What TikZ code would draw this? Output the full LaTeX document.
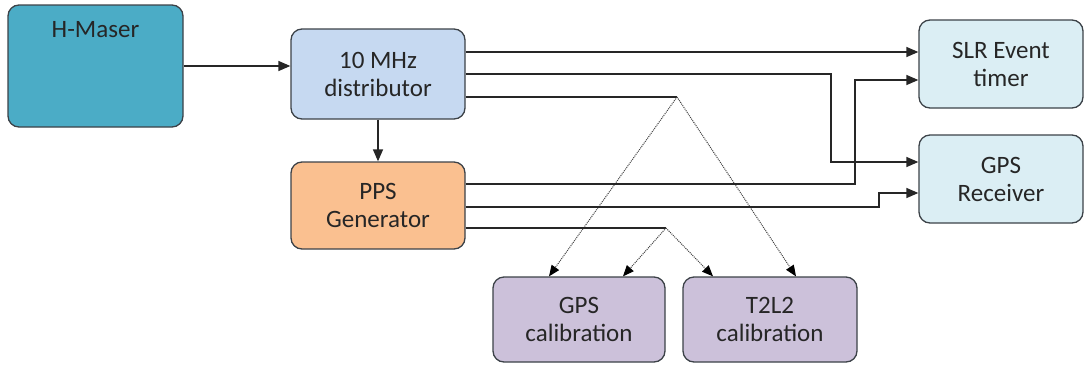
\documentclass[tikz,border=0pt]{standalone}
\usepackage{fontspec}
\setmainfont{Carlito}
\usepackage{tikz}
\usetikzlibrary{arrows.meta}
\definecolor{maserfill}{RGB}{75,172,198}
\definecolor{distfill}{RGB}{198,217,241}
\definecolor{ppsfill}{RGB}{250,192,144}
\definecolor{rxfill}{RGB}{219,238,244}
\definecolor{calfill}{RGB}{204,193,218}
\definecolor{boxline}{RGB}{60,66,72}

\begin{document}
\begin{tikzpicture}[x=1pt, y=-1pt,
	box/.style={draw=boxline, line width=1.3pt, rounded corners=11pt, inner sep=0pt, align=center, font=\fontsize{25}{28}\selectfont, text=black!85},
	wire/.style={draw=black!85, line width=1.4pt, -{Triangle[length=12pt,width=10pt]}},
	link/.style={draw=black!75, line width=1pt, densely dotted, -{Triangle[length=11pt,width=9pt,color=black]}}]
	\useasboundingbox (0,0) rectangle (1085,365);

	% boxes
	\node[box, fill=maserfill, minimum width=175pt, text height=32pt, text depth=90pt] (hmaser) at (95.5,66) {H-Maser};
	\node[box, fill=distfill, minimum width=174pt, minimum height=90pt] (dist) at (378,74) {10 MHz\\distributor};
	\node[box, fill=ppsfill, minimum width=174pt, minimum height=87pt] (pps) at (378,205.5) {PPS\\Generator};
	\node[box, fill=rxfill, minimum width=164pt, minimum height=88pt] (slr) at (1001,64) {SLR Event\\timer};
	\node[box, fill=rxfill, minimum width=164pt, minimum height=88pt] (gpsr) at (1001,179) {GPS\\Receiver};
	\node[box, fill=calfill, minimum width=172pt, minimum height=85pt] (gpscal) at (579,319.5) {GPS\\calibration};
	\node[box, fill=calfill, minimum width=174pt, minimum height=85pt] (t2l2) at (770,319.5) {T2L2\\calibration};

	% routing points
	\coordinate (bend1) at (831,162);
	\coordinate (bend2) at (855,80);
	\coordinate (bend3) at (879,193);
	\coordinate (split1) at (677,97);
	\coordinate (split2) at (666,228);

	% 10 MHz
	\draw[wire] (hmaser.east) -- (hmaser.east -| dist.west);
	\draw[wire] (dist.south) -- (pps.north);
	\draw[wire] ([yshift=22pt]dist.east) -- ([yshift=22pt]dist.east -| slr.west);
	\draw[wire] (dist.east) -| (bend1) -- (bend1 -| gpsr.west);
	\draw[line width=1.4pt, black!85] ([yshift=-23pt]dist.east) -- (split1);
	\draw[link] (split1) -- ([xshift=-30pt]gpscal.north);
	\draw[link] (split1) -- ([xshift=26pt]t2l2.north);

	% PPS
	\draw[wire] ([yshift=21.5pt]pps.east) -| (bend2) -- (bend2 -| slr.west);
	\draw[wire] ([yshift=-1.5pt]pps.east) -| (bend3) -- (bend3 -| gpsr.west);
	\draw[line width=1.4pt, black!85] ([yshift=-22.5pt]pps.east) -- (split2);
	\draw[link] (split2) -- ([xshift=44pt]gpscal.north);
	\draw[link] (split2) -- ([xshift=-57pt]t2l2.north);
\end{tikzpicture}
\end{document}
